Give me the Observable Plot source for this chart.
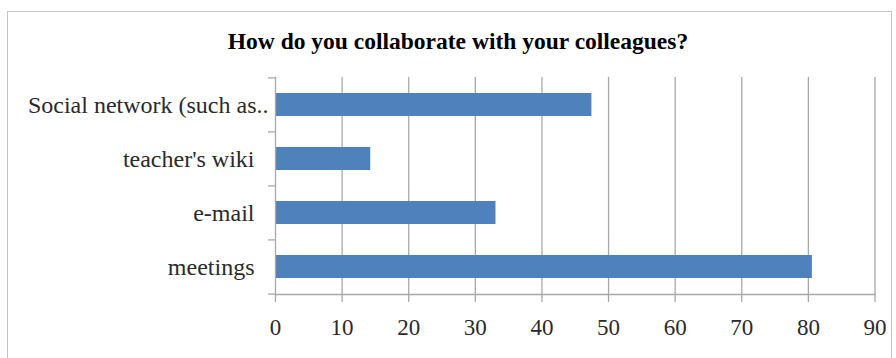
<!DOCTYPE html>
<html>
<head>
<meta charset="utf-8">
<script src="https://cdn.jsdelivr.net/npm/d3@7"></script>
<script src="https://cdn.jsdelivr.net/npm/@observablehq/plot@0.6"></script>
<style>
  html, body { margin: 0; padding: 0; background: #fff; }
  #wrap { position: relative; width: 896px; height: 358px; overflow: hidden; }
  #border { position: absolute; left: 7px; top: 11px; width: 885px; height: 400px; border: 1.5px solid #c4c4c4; box-sizing: border-box; }
  #title { position: absolute; left: 0; top: 30px; width: 916px; text-align: center;
           font-family: "Liberation Serif", "Times New Roman", serif; font-weight: bold;
           font-size: 23.5px; line-height: 23.5px; color: #000; }
  #chart { position: absolute; left: 0; top: 0; }
</style>
</head>
<body>
<div id="wrap">
  <div id="border"></div>
  <div id="title">How do you collaborate with your colleagues?</div>
  <div id="chart"></div>
</div>
<script>
const categories = ["Social network (such as..", "teacher's wiki", "e-mail", "meetings"];
const values = [47.5, 14.3, 33.1, 80.6];
const xTicks = [0, 10, 20, 30, 40, 50, 60, 70, 80, 90];

const data = categories.map((c, i) => ({category: c, value: values[i]}));
const gridColor = "#a8a8a8";
const textColor = "#2a2a2a";
const pad = 0.57;

const plot = Plot.plot({
  width: 896,
  height: 358,
  marginTop: 77,
  marginBottom: 64,
  marginLeft: 275,
  marginRight: 21.5,
  style: {fontFamily: "'Liberation Serif', 'Times New Roman', serif", fontSize: "24px", background: "transparent", overflow: "visible"},
  x: {domain: [0, 90], label: null},
  y: {domain: categories, paddingInner: pad, paddingOuter: pad / 2, label: null},
  marks: [
    Plot.gridX(xTicks.filter(d => d > 0), {stroke: gridColor, strokeOpacity: 1, strokeWidth: 1.3}),
    Plot.barX(data, {x: "value", y: "category", fill: "#4f81bd"}),
    Plot.frame({anchor: "left", stroke: gridColor, strokeWidth: 1.3}),
    Plot.frame({anchor: "bottom", stroke: gridColor, strokeWidth: 1.3}),
    // category boundary ticks on the y axis
    Plot.ruleY(categories, {y: d => d, x1: 0, x2: 0, insetLeft: -7, dy: -27.1, stroke: gridColor, strokeWidth: 1.3}),
    Plot.ruleY(categories.slice(-1), {y: d => d, x1: 0, x2: 0, insetLeft: -7, dy: 27.1, stroke: gridColor, strokeWidth: 1.3}),
    Plot.axisX(xTicks, {tickSize: 8, tickPadding: 16, stroke: gridColor, strokeWidth: 1.3, fill: textColor, fontSize: 23, label: null}),
    Plot.axisY(categories.slice(1), {tickSize: 0, tickPadding: 21, fill: textColor, fontSize: 24, label: null}),
    Plot.axisY(categories.slice(0, 1), {tickSize: 0, tickPadding: 7, fill: textColor, fontSize: 24, label: null})
  ]
});
document.getElementById("chart").appendChild(plot);
</script>
</body>
</html>
